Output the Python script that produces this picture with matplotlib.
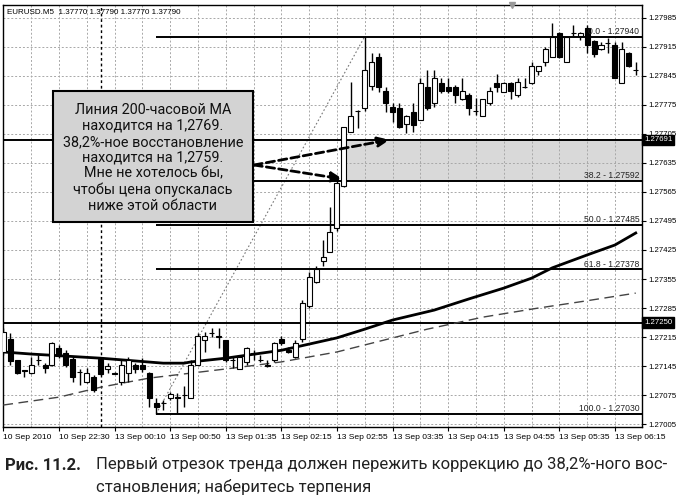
import matplotlib
matplotlib.use("Agg")
import matplotlib.pyplot as plt
from matplotlib.patches import Rectangle
from matplotlib.transforms import blended_transform_factory

W, H = 676, 497

header = "EURUSD.M5  1.37770 1.37790 1.37770 1.37790"

# M5 bars, left to right
opens = [1.27179, 1.27210, 1.27160, 1.27135, 1.27128, 1.27160, 1.27147, 1.27147, 1.27188, 1.27176,
         1.27162, 1.27131, 1.27106, 1.27118, 1.27162, 1.27138, 1.27128, 1.27106, 1.27128, 1.27147,
         1.27147, 1.27128, 1.27056, 1.27056, 1.27068, 1.27070, 1.27075, 1.27068, 1.27147, 1.27208,
         1.27225, 1.27217, 1.27208, 1.27160, 1.27138, 1.27155, 1.27176, 1.27160, 1.27147, 1.27160,
         1.27210, 1.27184, 1.27167, 1.27210, 1.27290, 1.27348, 1.27398, 1.27420, 1.27478, 1.27580,
         1.27710, 1.27761, 1.27768, 1.27821, 1.27891, 1.27809, 1.27770, 1.27768, 1.27729, 1.27758,
         1.27739, 1.27818, 1.27780, 1.27828, 1.27818, 1.27818, 1.27789, 1.27799, 1.27761, 1.27748,
         1.27780, 1.27828, 1.27806, 1.27828, 1.27799, 1.27818, 1.27828, 1.27857, 1.27879, 1.27891,
         1.27949, 1.27879, 1.27949, 1.27942, 1.27961, 1.27929, 1.27910, 1.27925, 1.27920, 1.27828,
         1.27901, 1.27859]
highs = [1.27237, 1.27225, 1.27160, 1.27136, 1.27167, 1.27172, 1.27152, 1.27203, 1.27196, 1.27184,
         1.27169, 1.27138, 1.27140, 1.27123, 1.27167, 1.27152, 1.27131, 1.27160, 1.27167, 1.27152,
         1.27164, 1.27131, 1.27068, 1.27063, 1.27083, 1.27080, 1.27097, 1.27160, 1.27225, 1.27227,
         1.27237, 1.27237, 1.27208, 1.27167, 1.27167, 1.27191, 1.27184, 1.27172, 1.27160, 1.27203,
         1.27217, 1.27191, 1.27208, 1.27304, 1.27372, 1.27386, 1.27449, 1.27529, 1.27601, 1.27722,
         1.27831, 1.27762, 1.27940, 1.27901, 1.27901, 1.27818, 1.27780, 1.27780, 1.27751, 1.27780,
         1.27840, 1.27859, 1.27859, 1.27840, 1.27840, 1.27823, 1.27840, 1.27804, 1.27792, 1.27789,
         1.27818, 1.27850, 1.27830, 1.27830, 1.27840, 1.27840, 1.27879, 1.27869, 1.27915, 1.27973,
         1.27951, 1.27940, 1.27968, 1.27951, 1.27968, 1.27932, 1.27927, 1.27937, 1.27927, 1.27927,
         1.27903, 1.27879]
lows = [1.27172, 1.27147, 1.27126, 1.27118, 1.27126, 1.27147, 1.27128, 1.27145, 1.27164, 1.27143,
        1.27106, 1.27099, 1.27104, 1.27083, 1.27123, 1.27128, 1.27126, 1.27099, 1.27106, 1.27128,
        1.27131, 1.27046, 1.27030, 1.27039, 1.27063, 1.27032, 1.27046, 1.27068, 1.27147, 1.27179,
        1.27215, 1.27188, 1.27155, 1.27140, 1.27138, 1.27147, 1.27160, 1.27155, 1.27143, 1.27155,
        1.27196, 1.27176, 1.27164, 1.27203, 1.27285, 1.27345, 1.27386, 1.27420, 1.27471, 1.27578,
        1.27710, 1.27720, 1.27761, 1.27811, 1.27806, 1.27758, 1.27734, 1.27720, 1.27707, 1.27710,
        1.27739, 1.27763, 1.27770, 1.27804, 1.27804, 1.27780, 1.27787, 1.27751, 1.27751, 1.27748,
        1.27775, 1.27806, 1.27805, 1.27789, 1.27794, 1.27816, 1.27826, 1.27847, 1.27869, 1.27891,
        1.27888, 1.27878, 1.27942, 1.27932, 1.27901, 1.27891, 1.27908, 1.27901, 1.27840, 1.27828,
        1.27867, 1.27847]
closes = [1.27227, 1.27157, 1.27128, 1.27134, 1.27147, 1.27159, 1.27140, 1.27201, 1.27169, 1.27147,
          1.27118, 1.27130, 1.27128, 1.27087, 1.27126, 1.27145, 1.27127, 1.27147, 1.27160, 1.27138,
          1.27138, 1.27068, 1.27046, 1.27055, 1.27077, 1.27069, 1.27074, 1.27147, 1.27217, 1.27217,
          1.27224, 1.27216, 1.27160, 1.27159, 1.27167, 1.27188, 1.27175, 1.27159, 1.27146, 1.27201,
          1.27201, 1.27179, 1.27201, 1.27297, 1.27360, 1.27379, 1.27408, 1.27468, 1.27587, 1.27722,
          1.27748, 1.27760, 1.27859, 1.27879, 1.27818, 1.27780, 1.27758, 1.27722, 1.27748, 1.27727,
          1.27828, 1.27768, 1.27840, 1.27809, 1.27809, 1.27799, 1.27809, 1.27768, 1.27760, 1.27789,
          1.27809, 1.27818, 1.27828, 1.27809, 1.27831, 1.27817, 1.27869, 1.27869, 1.27910, 1.27939,
          1.27891, 1.27939, 1.27948, 1.27949, 1.27920, 1.27898, 1.27920, 1.27924, 1.27840, 1.27910,
          1.27869, 1.27858]

# moving averages, read at some bars
ma_solid_bar = [0, 4, 14, 23, 26, 27, 32, 40, 48, 52, 56, 62, 67, 72, 76, 79, 84, 88, 91]
ma_solid_val = [1.27179, 1.27174, 1.27164, 1.27152, 1.27152, 1.27155, 1.27164, 1.27183, 1.27213,
                1.27234, 1.27256, 1.27280, 1.27307, 1.27333, 1.27357, 1.27382, 1.27413, 1.27437, 1.27466]
ma_dash_bar = [0, 8, 14, 21, 27, 33, 40, 48, 61, 69, 77, 83, 91]
ma_dash_val = [1.27051, 1.27070, 1.27094, 1.27116, 1.27128, 1.27140, 1.27155, 1.27179, 1.27234,
               1.27263, 1.27285, 1.27300, 1.27321]

time_bars = [0, 8, 16, 24, 32, 40, 48, 56, 64, 72, 80, 88]
time_labels = ["10 Sep 2010", "10 Sep 22:30", "13 Sep 00:10", "13 Sep 00:50", "13 Sep 01:35",
               "13 Sep 02:15", "13 Sep 02:55", "13 Sep 03:35", "13 Sep 04:15", "13 Sep 04:55",
               "13 Sep 05:35", "13 Sep 06:15"]
price_ticks = [1.27985, 1.27915, 1.27845, 1.27775, 1.27705, 1.27635, 1.27565, 1.27495, 1.27425,
               1.27355, 1.27285, 1.27215, 1.27145, 1.27075, 1.27005]
day_start = 14

fib_low_bar = 22
fib_high_bar = 52
fib_names = ["0.0", "38.2", "50.0", "61.8", "100.0"]
fib_prices = [1.27940, 1.27592, 1.27485, 1.27378, 1.27030]
ma_level = 1.27691
support_level = 1.27250
zone_start = 49.5

note = ("Линия 200-часовой MA\nнаходится на 1,2769.\n38,2%-ное восстановление\n"
        "находится на 1,2759.\nМне не хотелось бы,\nчтобы цена опускалась\nниже этой области")
caption_num = "Рис. 11.2."
caption = ["Первый отрезок тренда должен пережить коррекцию до 38,2%-ного вос-",
           "становления; наберитесь терпения"]

small = "Liberation Sans"


def fx(x):
    return x / W


def fy(y):
    return 1 - y / H


fig = plt.figure(figsize=(W / 100, H / 100), dpi=100)
ax = fig.add_axes([fx(3), fy(427), (642 - 3) / W, (427 - 5) / H])
xmax = 91.9
ax.set_xlim(-0.05, xmax)
ax.set_ylim(1.26998, 1.28016)

# grid
for b in range(0, 92, 4):
    ax.axvline(b, color="#a8a8a8", lw=0.7, ls=(0, (2, 2)), zorder=1)
for p in price_ticks:
    ax.axhline(p, color="#a8a8a8", lw=0.7, ls=(0, (2, 2)), zorder=1)
ax.axvline(day_start, color="black", lw=1, ls=(0, (2, 2)), zorder=1.5)

# zone between 38.2 and MA
ax.fill_between([zone_start, xmax], fib_prices[1], ma_level, color="#d9d9d9", zorder=0.5, lw=0)

# fibo
ax.plot([fib_low_bar, fib_high_bar], [lows[fib_low_bar], highs[fib_high_bar]],
        color="#777777", lw=0.8, ls=(0, (1.5, 2)), zorder=2)
for name, p in zip(fib_names, fib_prices):
    ax.hlines(p, fib_low_bar, xmax, color="black", lw=1.4, zorder=2)
    ax.text(xmax - 0.4, p + 0.00002, f"{name} - {p:.5f}", ha="right", va="bottom",
            fontsize=6.2, family=small, color="#222222", zorder=6)
ax.axhline(ma_level, color="black", lw=1.4, zorder=2)
ax.axhline(support_level, color="black", lw=1.4, zorder=2)

# moving averages
ax.plot(ma_dash_bar, ma_dash_val, color="#444444", lw=1.0, ls=(0, (7, 4)), zorder=3)
ax.plot(ma_solid_bar, ma_solid_val, color="black", lw=2.0, zorder=3)

# candles
bw = 0.72
for i in range(len(opens)):
    o, h, l, c = opens[i], highs[i], lows[i], closes[i]
    ax.vlines(i, l, h, color="black", lw=1, zorder=4)
    fc = "white" if c >= o else "black"
    ax.add_patch(Rectangle((i - bw / 2, min(o, c)), bw, max(abs(c - o), 0.000004),
                           fc=fc, ec="black", lw=0.8, zorder=5))

# axes
for s in ax.spines.values():
    s.set_color("black")
    s.set_linewidth(1)
ax.yaxis.tick_right()
ax.set_yticks(price_ticks)
ax.set_yticklabels([f"{p:.5f}" for p in price_ticks], family=small, fontsize=5.6)
ax.set_xticks(time_bars)
ax.set_xticklabels(time_labels, ha="left", family=small, fontsize=6.1)
ax.tick_params(axis="both", length=3, width=0.8, colors="black")
ax.tick_params(axis="y", pad=1.5)
ax.tick_params(axis="x", pad=2)

tr = blended_transform_factory(ax.transAxes, ax.transData)
for p in [ma_level, support_level]:
    ax.text(1.003, p, f"{p:.5f}", transform=tr, ha="left", va="center", fontsize=5.6,
            family=small, color="white", zorder=10, clip_on=False,
            bbox=dict(boxstyle="square,pad=0.2", fc="black", ec="black"))

ax.text(0.006, 0.99, header, transform=ax.transAxes, ha="left", va="top", fontsize=5.8,
        family=small, color="black")
ax.plot([73.2], [1.28016], marker="v", color="#999999", ms=5, clip_on=False, zorder=8)

# note box and arrows
fig.add_artist(Rectangle((fx(53), fy(222)), 200 / W, 131 / H, transform=fig.transFigure,
                         fc="#d3d3d3", ec="black", lw=1.5, zorder=20))
fig.text(fx(153), fy(158), note, ha="center", va="center", multialignment="center",
         fontsize=10.4, family="Roboto", color="#111111", linespacing=1.17, zorder=21)
start = (fx(254), fy(165))
for tx, ty in [(55.6, ma_level), (48.9, fib_prices[1] + 0.00004)]:
    ax.annotate("", xy=(tx, ty), xycoords="data", xytext=start, textcoords="figure fraction",
                arrowprops=dict(arrowstyle="-|>,head_length=0.7,head_width=0.3", color="black",
                                lw=2, ls=(0, (3, 1.5)), shrinkA=0, shrinkB=0),
                zorder=22, annotation_clip=False)

# caption
fig.text(fx(5), fy(465), caption_num, ha="left", va="center", fontsize=12, family="Roboto",
         weight="bold", color="#222222")
fig.text(fx(96), fy(465), caption[0], ha="left", va="center", fontsize=12, family="Roboto",
         color="#222222")
fig.text(fx(96), fy(487), caption[1], ha="left", va="center", fontsize=12, family="Roboto",
         color="#222222")

fig.savefig("out.png", dpi=100)
